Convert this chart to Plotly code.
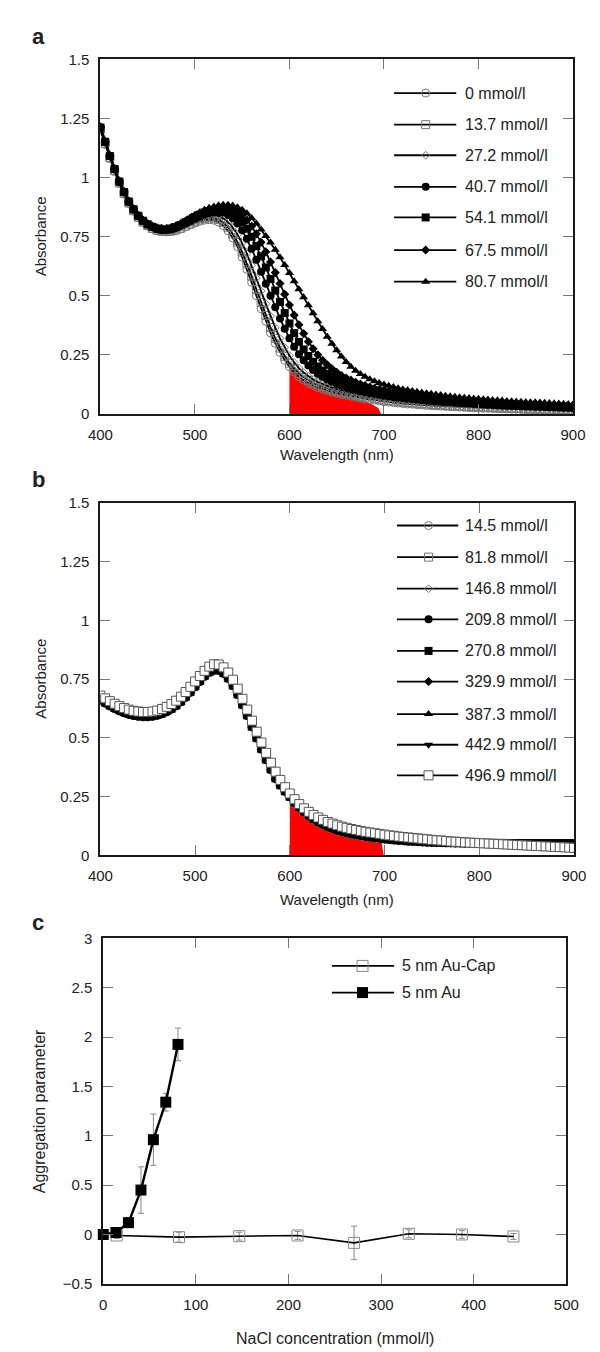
import plotly.graph_objects as go

# ---------------- data ----------------
WL = list(range(400, 901, 5))  # wavelength grid (nm), 5 nm steps

A_LABELS = ["0 mmol/l", "13.7 mmol/l", "27.2 mmol/l", "40.7 mmol/l",
            "54.1 mmol/l", "67.5 mmol/l", "80.7 mmol/l"]

A0 = [1.200, 1.140, 1.080, 1.025, 0.975, 0.930, 0.890, 0.858, 0.830, 0.810,
      0.795, 0.783, 0.775, 0.771, 0.770, 0.772, 0.776, 0.783, 0.791, 0.800,
      0.808, 0.815, 0.820, 0.822, 0.820, 0.812, 0.797, 0.775, 0.745, 0.708,
      0.663, 0.612, 0.557, 0.500, 0.445, 0.392, 0.343, 0.299, 0.260, 0.227,
      0.200, 0.177, 0.158, 0.143, 0.131, 0.121, 0.112, 0.105, 0.099, 0.093,
      0.088, 0.083, 0.079, 0.075, 0.071, 0.067, 0.064, 0.061, 0.058, 0.055,
      0.052, 0.050, 0.048, 0.046, 0.044, 0.042, 0.041, 0.039, 0.038, 0.036,
      0.035, 0.034, 0.033, 0.032, 0.031, 0.030, 0.029, 0.028, 0.027, 0.026,
      0.025, 0.024, 0.024, 0.023, 0.022, 0.022, 0.021, 0.020, 0.020, 0.019,
      0.018, 0.018, 0.017, 0.016, 0.016, 0.015, 0.015, 0.014, 0.014, 0.013,
      0.013]
A1 = [1.205, 1.145, 1.085, 1.030, 0.978, 0.933, 0.893, 0.860, 0.833, 0.812,
      0.797, 0.785, 0.777, 0.773, 0.772, 0.774, 0.779, 0.786, 0.795, 0.804,
      0.813, 0.821, 0.827, 0.830, 0.829, 0.823, 0.810, 0.790, 0.762, 0.727,
      0.685, 0.636, 0.583, 0.527, 0.471, 0.417, 0.366, 0.320, 0.279, 0.244,
      0.215, 0.191, 0.171, 0.155, 0.142, 0.131, 0.122, 0.114, 0.107, 0.101,
      0.095, 0.090, 0.086, 0.082, 0.078, 0.074, 0.071, 0.068, 0.065, 0.062,
      0.059, 0.057, 0.054, 0.052, 0.050, 0.048, 0.046, 0.045, 0.043, 0.042,
      0.040, 0.039, 0.038, 0.036, 0.035, 0.034, 0.033, 0.032, 0.031, 0.030,
      0.029, 0.028, 0.028, 0.027, 0.026, 0.025, 0.025, 0.024, 0.023, 0.023,
      0.022, 0.021, 0.021, 0.020, 0.020, 0.019, 0.019, 0.018, 0.018, 0.017,
      0.017]
A2 = [1.210, 1.148, 1.088, 1.032, 0.980, 0.935, 0.895, 0.862, 0.835, 0.814,
      0.799, 0.787, 0.779, 0.775, 0.774, 0.777, 0.782, 0.790, 0.800, 0.810,
      0.819, 0.828, 0.835, 0.839, 0.840, 0.837, 0.828, 0.812, 0.789, 0.759,
      0.722, 0.678, 0.628, 0.575, 0.520, 0.466, 0.414, 0.365, 0.320, 0.281,
      0.247, 0.218, 0.194, 0.175, 0.159, 0.146, 0.135, 0.126, 0.118, 0.111,
      0.105, 0.099, 0.094, 0.090, 0.086, 0.082, 0.078, 0.075, 0.072, 0.069,
      0.066, 0.063, 0.061, 0.059, 0.056, 0.054, 0.052, 0.051, 0.049, 0.047,
      0.046, 0.044, 0.043, 0.041, 0.040, 0.039, 0.038, 0.037, 0.036, 0.035,
      0.034, 0.033, 0.032, 0.031, 0.030, 0.029, 0.029, 0.028, 0.027, 0.026,
      0.026, 0.025, 0.024, 0.024, 0.023, 0.023, 0.022, 0.022, 0.021, 0.021,
      0.020]
A3 = [1.210, 1.150, 1.090, 1.034, 0.982, 0.937, 0.897, 0.864, 0.837, 0.816,
      0.801, 0.790, 0.782, 0.778, 0.778, 0.781, 0.787, 0.796, 0.806, 0.816,
      0.826, 0.836, 0.844, 0.850, 0.854, 0.855, 0.852, 0.843, 0.828, 0.806,
      0.777, 0.741, 0.699, 0.652, 0.602, 0.551, 0.500, 0.451, 0.404, 0.360,
      0.320, 0.284, 0.253, 0.227, 0.205, 0.186, 0.170, 0.157, 0.146, 0.136,
      0.127, 0.120, 0.113, 0.107, 0.102, 0.097, 0.093, 0.089, 0.085, 0.082,
      0.078, 0.075, 0.072, 0.070, 0.067, 0.065, 0.063, 0.061, 0.059, 0.057,
      0.055, 0.053, 0.052, 0.050, 0.049, 0.047, 0.046, 0.045, 0.044, 0.042,
      0.041, 0.040, 0.039, 0.038, 0.037, 0.036, 0.035, 0.034, 0.034, 0.033,
      0.032, 0.031, 0.030, 0.030, 0.029, 0.028, 0.028, 0.027, 0.026, 0.026,
      0.025]
A4 = [1.212, 1.152, 1.092, 1.036, 0.984, 0.939, 0.899, 0.866, 0.839, 0.818,
      0.803, 0.792, 0.785, 0.781, 0.781, 0.785, 0.791, 0.800, 0.811, 0.822,
      0.833, 0.843, 0.852, 0.859, 0.863, 0.866, 0.865, 0.860, 0.850, 0.834,
      0.812, 0.784, 0.750, 0.711, 0.667, 0.620, 0.571, 0.522, 0.474, 0.427,
      0.383, 0.342, 0.305, 0.273, 0.245, 0.221, 0.201, 0.184, 0.169, 0.157,
      0.146, 0.137, 0.129, 0.122, 0.116, 0.110, 0.105, 0.100, 0.096, 0.092,
      0.088, 0.085, 0.082, 0.079, 0.076, 0.073, 0.071, 0.068, 0.066, 0.064,
      0.062, 0.060, 0.058, 0.057, 0.055, 0.053, 0.052, 0.050, 0.049, 0.048,
      0.047, 0.045, 0.044, 0.043, 0.042, 0.041, 0.040, 0.039, 0.038, 0.037,
      0.036, 0.035, 0.035, 0.034, 0.033, 0.032, 0.031, 0.031, 0.030, 0.029,
      0.029]
A5 = [1.215, 1.154, 1.094, 1.038, 0.986, 0.941, 0.901, 0.868, 0.841, 0.820,
      0.805, 0.794, 0.787, 0.784, 0.784, 0.788, 0.795, 0.804, 0.815, 0.827,
      0.838, 0.849, 0.858, 0.866, 0.871, 0.875, 0.876, 0.874, 0.868, 0.857,
      0.841, 0.820, 0.794, 0.762, 0.726, 0.686, 0.643, 0.598, 0.552, 0.506,
      0.461, 0.418, 0.377, 0.340, 0.306, 0.276, 0.250, 0.227, 0.208, 0.191,
      0.176, 0.163, 0.152, 0.143, 0.134, 0.127, 0.120, 0.114, 0.109, 0.104,
      0.100, 0.096, 0.092, 0.089, 0.086, 0.083, 0.080, 0.077, 0.075, 0.072,
      0.070, 0.068, 0.066, 0.064, 0.062, 0.061, 0.059, 0.057, 0.056, 0.054,
      0.053, 0.052, 0.050, 0.049, 0.048, 0.047, 0.046, 0.045, 0.044, 0.043,
      0.042, 0.041, 0.040, 0.039, 0.038, 0.037, 0.037, 0.036, 0.035, 0.034,
      0.034]
A6 = [1.218, 1.156, 1.096, 1.040, 0.988, 0.943, 0.903, 0.870, 0.843, 0.822,
      0.807, 0.796, 0.789, 0.786, 0.787, 0.791, 0.798, 0.808, 0.819, 0.831,
      0.843, 0.854, 0.864, 0.872, 0.878, 0.883, 0.885, 0.885, 0.882, 0.875,
      0.864, 0.849, 0.829, 0.806, 0.780, 0.753, 0.725, 0.695, 0.663, 0.630,
      0.596, 0.562, 0.528, 0.494, 0.460, 0.426, 0.392, 0.359, 0.327, 0.297,
      0.269, 0.243, 0.220, 0.200, 0.183, 0.169, 0.157, 0.147, 0.138, 0.131,
      0.125, 0.119, 0.114, 0.109, 0.105, 0.101, 0.097, 0.094, 0.091, 0.088,
      0.085, 0.082, 0.080, 0.077, 0.075, 0.073, 0.071, 0.069, 0.067, 0.065,
      0.064, 0.062, 0.061, 0.059, 0.058, 0.057, 0.055, 0.054, 0.053, 0.052,
      0.051, 0.050, 0.049, 0.048, 0.047, 0.046, 0.045, 0.044, 0.043, 0.042,
      0.041]

B_LABELS = ["14.5 mmol/l", "81.8 mmol/l", "146.8 mmol/l", "209.8 mmol/l",
            "270.8 mmol/l", "329.9 mmol/l", "387.3 mmol/l", "442.9 mmol/l",
            "496.9 mmol/l"]

B0 = [0.660, 0.648, 0.636, 0.625, 0.615, 0.607, 0.600, 0.595, 0.592, 0.590,
      0.590, 0.592, 0.596, 0.602, 0.611, 0.622, 0.636, 0.653, 0.672, 0.694,
      0.717, 0.740, 0.762, 0.778, 0.787, 0.786, 0.774, 0.752, 0.721, 0.683,
      0.640, 0.594, 0.546, 0.498, 0.451, 0.406, 0.364, 0.326, 0.298, 0.272,
      0.248, 0.224, 0.203, 0.184, 0.168, 0.154, 0.142, 0.131, 0.122, 0.114,
      0.107, 0.101, 0.096, 0.091, 0.087, 0.083, 0.080, 0.077, 0.074, 0.072,
      0.069, 0.067, 0.065, 0.063, 0.062, 0.060, 0.059, 0.058, 0.057, 0.056,
      0.055, 0.054, 0.054, 0.053, 0.053, 0.052, 0.052, 0.051, 0.051, 0.051,
      0.050, 0.050, 0.050, 0.050, 0.050, 0.050, 0.049, 0.049, 0.049, 0.049,
      0.049, 0.049, 0.049, 0.049, 0.049, 0.049, 0.049, 0.049, 0.049, 0.049,
      0.049]
B1 = [0.664, 0.652, 0.640, 0.629, 0.619, 0.611, 0.604, 0.599, 0.596, 0.594,
      0.594, 0.596, 0.600, 0.606, 0.615, 0.626, 0.640, 0.657, 0.676, 0.698,
      0.721, 0.744, 0.765, 0.781, 0.790, 0.789, 0.777, 0.755, 0.724, 0.686,
      0.643, 0.597, 0.549, 0.501, 0.454, 0.409, 0.367, 0.329, 0.300, 0.274,
      0.250, 0.226, 0.205, 0.186, 0.170, 0.156, 0.144, 0.133, 0.124, 0.116,
      0.109, 0.103, 0.097, 0.092, 0.088, 0.084, 0.081, 0.078, 0.075, 0.073,
      0.070, 0.068, 0.066, 0.064, 0.063, 0.061, 0.060, 0.059, 0.058, 0.057,
      0.056, 0.055, 0.055, 0.054, 0.054, 0.053, 0.053, 0.052, 0.052, 0.052,
      0.051, 0.051, 0.051, 0.051, 0.051, 0.051, 0.050, 0.050, 0.050, 0.050,
      0.050, 0.050, 0.050, 0.050, 0.050, 0.050, 0.050, 0.050, 0.050, 0.050,
      0.050]
B2 = [0.662, 0.650, 0.638, 0.627, 0.617, 0.609, 0.602, 0.597, 0.594, 0.592,
      0.592, 0.594, 0.598, 0.604, 0.613, 0.624, 0.638, 0.655, 0.674, 0.696,
      0.719, 0.742, 0.764, 0.780, 0.789, 0.788, 0.776, 0.754, 0.723, 0.685,
      0.642, 0.596, 0.548, 0.500, 0.453, 0.408, 0.366, 0.328, 0.299, 0.273,
      0.249, 0.225, 0.204, 0.185, 0.169, 0.155, 0.143, 0.132, 0.123, 0.115,
      0.108, 0.102, 0.097, 0.092, 0.088, 0.084, 0.081, 0.078, 0.075, 0.073,
      0.070, 0.068, 0.066, 0.064, 0.063, 0.061, 0.060, 0.059, 0.058, 0.057,
      0.056, 0.055, 0.055, 0.054, 0.054, 0.053, 0.053, 0.052, 0.052, 0.052,
      0.051, 0.051, 0.051, 0.051, 0.051, 0.051, 0.050, 0.050, 0.050, 0.050,
      0.050, 0.050, 0.050, 0.050, 0.050, 0.050, 0.050, 0.050, 0.050, 0.050,
      0.050]
B3 = [0.658, 0.646, 0.634, 0.623, 0.613, 0.605, 0.598, 0.593, 0.590, 0.588,
      0.588, 0.590, 0.594, 0.600, 0.609, 0.620, 0.634, 0.651, 0.670, 0.692,
      0.715, 0.738, 0.760, 0.777, 0.786, 0.785, 0.773, 0.751, 0.720, 0.682,
      0.639, 0.593, 0.545, 0.497, 0.450, 0.405, 0.363, 0.325, 0.297, 0.271,
      0.247, 0.223, 0.202, 0.183, 0.167, 0.153, 0.141, 0.130, 0.121, 0.113,
      0.106, 0.100, 0.095, 0.090, 0.086, 0.082, 0.079, 0.076, 0.073, 0.071,
      0.068, 0.066, 0.064, 0.062, 0.061, 0.059, 0.058, 0.057, 0.056, 0.055,
      0.054, 0.053, 0.053, 0.052, 0.052, 0.051, 0.051, 0.050, 0.050, 0.050,
      0.049, 0.049, 0.049, 0.049, 0.049, 0.049, 0.048, 0.048, 0.048, 0.048,
      0.048, 0.048, 0.048, 0.048, 0.048, 0.048, 0.048, 0.048, 0.048, 0.048,
      0.048]
B4 = [0.663, 0.651, 0.639, 0.628, 0.618, 0.610, 0.603, 0.598, 0.595, 0.593,
      0.593, 0.595, 0.599, 0.605, 0.614, 0.625, 0.639, 0.656, 0.675, 0.697,
      0.720, 0.743, 0.765, 0.781, 0.790, 0.789, 0.777, 0.755, 0.724, 0.686,
      0.643, 0.597, 0.549, 0.501, 0.454, 0.409, 0.367, 0.329, 0.300, 0.274,
      0.250, 0.226, 0.205, 0.186, 0.170, 0.156, 0.144, 0.133, 0.124, 0.116,
      0.109, 0.103, 0.098, 0.093, 0.089, 0.085, 0.082, 0.079, 0.076, 0.074,
      0.071, 0.069, 0.067, 0.065, 0.064, 0.062, 0.061, 0.060, 0.059, 0.058,
      0.057, 0.056, 0.056, 0.055, 0.055, 0.054, 0.054, 0.053, 0.053, 0.053,
      0.052, 0.052, 0.052, 0.052, 0.052, 0.052, 0.051, 0.051, 0.051, 0.051,
      0.051, 0.051, 0.051, 0.051, 0.051, 0.051, 0.051, 0.051, 0.051, 0.051,
      0.051]
B5 = [0.661, 0.649, 0.637, 0.626, 0.616, 0.608, 0.601, 0.596, 0.593, 0.591,
      0.591, 0.593, 0.597, 0.603, 0.612, 0.623, 0.637, 0.654, 0.673, 0.695,
      0.718, 0.741, 0.763, 0.779, 0.788, 0.787, 0.775, 0.753, 0.722, 0.684,
      0.641, 0.595, 0.547, 0.499, 0.452, 0.407, 0.365, 0.327, 0.298, 0.272,
      0.248, 0.224, 0.203, 0.184, 0.168, 0.154, 0.142, 0.131, 0.122, 0.114,
      0.107, 0.101, 0.096, 0.091, 0.087, 0.083, 0.080, 0.077, 0.074, 0.072,
      0.069, 0.067, 0.065, 0.063, 0.062, 0.060, 0.059, 0.058, 0.057, 0.056,
      0.055, 0.054, 0.054, 0.053, 0.053, 0.052, 0.052, 0.051, 0.051, 0.051,
      0.050, 0.050, 0.050, 0.050, 0.050, 0.050, 0.049, 0.049, 0.049, 0.049,
      0.049, 0.049, 0.049, 0.049, 0.049, 0.049, 0.049, 0.049, 0.049, 0.049,
      0.049]
B6 = [0.665, 0.653, 0.641, 0.630, 0.620, 0.612, 0.605, 0.600, 0.597, 0.595,
      0.595, 0.597, 0.601, 0.607, 0.616, 0.627, 0.641, 0.658, 0.677, 0.699,
      0.722, 0.745, 0.766, 0.782, 0.791, 0.790, 0.778, 0.756, 0.725, 0.687,
      0.644, 0.598, 0.550, 0.502, 0.455, 0.410, 0.368, 0.330, 0.301, 0.275,
      0.251, 0.227, 0.206, 0.187, 0.171, 0.157, 0.145, 0.134, 0.125, 0.117,
      0.110, 0.104, 0.099, 0.094, 0.090, 0.086, 0.083, 0.080, 0.077, 0.075,
      0.072, 0.070, 0.068, 0.066, 0.065, 0.063, 0.062, 0.061, 0.060, 0.059,
      0.058, 0.057, 0.057, 0.056, 0.056, 0.055, 0.055, 0.054, 0.054, 0.054,
      0.053, 0.053, 0.053, 0.053, 0.053, 0.053, 0.052, 0.052, 0.052, 0.052,
      0.052, 0.052, 0.052, 0.052, 0.052, 0.052, 0.052, 0.052, 0.052, 0.052,
      0.052]
B7 = [0.667, 0.655, 0.643, 0.632, 0.622, 0.614, 0.607, 0.602, 0.599, 0.597,
      0.597, 0.599, 0.603, 0.609, 0.618, 0.629, 0.643, 0.660, 0.679, 0.701,
      0.724, 0.747, 0.768, 0.784, 0.793, 0.792, 0.780, 0.758, 0.727, 0.689,
      0.646, 0.600, 0.552, 0.504, 0.457, 0.412, 0.370, 0.332, 0.303, 0.277,
      0.253, 0.229, 0.208, 0.189, 0.173, 0.159, 0.147, 0.136, 0.127, 0.119,
      0.112, 0.106, 0.101, 0.096, 0.092, 0.088, 0.085, 0.082, 0.079, 0.077,
      0.074, 0.072, 0.070, 0.068, 0.067, 0.065, 0.064, 0.063, 0.062, 0.061,
      0.060, 0.059, 0.059, 0.058, 0.058, 0.057, 0.057, 0.056, 0.056, 0.056,
      0.055, 0.055, 0.055, 0.055, 0.055, 0.055, 0.054, 0.054, 0.054, 0.054,
      0.054, 0.054, 0.054, 0.054, 0.054, 0.054, 0.054, 0.054, 0.054, 0.054,
      0.054]
B8 = [0.680, 0.668, 0.656, 0.645, 0.635, 0.627, 0.620, 0.615, 0.612, 0.610,
      0.610, 0.612, 0.616, 0.623, 0.632, 0.644, 0.658, 0.675, 0.695, 0.717,
      0.740, 0.763, 0.785, 0.803, 0.813, 0.812, 0.800, 0.778, 0.747, 0.709,
      0.666, 0.620, 0.573, 0.526, 0.480, 0.436, 0.394, 0.356, 0.321, 0.290,
      0.263, 0.239, 0.218, 0.200, 0.185, 0.172, 0.161, 0.151, 0.142, 0.135,
      0.128, 0.122, 0.117, 0.112, 0.108, 0.104, 0.100, 0.097, 0.094, 0.091,
      0.088, 0.085, 0.083, 0.080, 0.078, 0.076, 0.074, 0.072, 0.070, 0.068,
      0.066, 0.064, 0.063, 0.061, 0.059, 0.058, 0.057, 0.055, 0.054, 0.053,
      0.052, 0.051, 0.050, 0.049, 0.048, 0.047, 0.046, 0.045, 0.044, 0.043,
      0.042, 0.041, 0.040, 0.039, 0.038, 0.037, 0.036, 0.035, 0.034, 0.033,
      0.032]

# red integration areas (600-700 nm)
RED_A_X = [600, 608, 619, 635, 662, 685, 694, 697]
RED_A_Y = [0.200, 0.165, 0.130, 0.100, 0.074, 0.046, 0.025, 0.0]
RED_B_X = [600, 612, 623, 640, 662, 685, 697, 699]
RED_B_Y = [0.249, 0.200, 0.158, 0.120, 0.095, 0.070, 0.053, 0.0]

# panel c
CAP_NACL = [14.5, 81.8, 146.8, 209.8, 270.8, 329.9, 387.3, 442.9]
CAP_AGG = [-0.01, -0.027, -0.017, -0.01, -0.085, 0.007, 0.0, -0.02]
CAP_ERR = [0.03, 0.05, 0.04, 0.04, 0.17, 0.04, 0.04, 0.03]
AU_NACL = [0, 13.7, 27.2, 40.7, 54.1, 67.5, 80.7]
AU_AGG = [0.0, 0.02, 0.12, 0.45, 0.96, 1.34, 1.925]
AU_ERR = [0.01, 0.02, 0.03, 0.235, 0.26, 0.09, 0.165]

# ---------------- styling / layout ----------------
W, H = 600, 1352
FONT = "Liberation Sans, Arial, Helvetica, sans-serif"
TXT = "#222222"
OPEN_C = "#777777"
LW = 1.8

# panel pixel boxes: left, right, top, bottom
BOX = {
    "a": (83, 577, 43, 402),
    "b": (83, 578, 492, 849),
    "c": (86, 570, 933, 1283),
}
RANGES = {
    "a": ((400, 900), (0, 1.5)),
    "b": ((400, 900), (0, 1.5)),
    "c": ((0, 500), (-0.5, 3)),
}
AX = {"a": ("x", "y"), "b": ("x2", "y2"), "c": ("x3", "y3")}


def to_data(p, px, py):
    l, r, t, b = BOX[p]
    (x0, x1), (y0, y1) = RANGES[p]
    return x0 + (px - l) / (r - l) * (x1 - x0), y0 + (b - py) / (b - t) * (y1 - y0)


fig = go.Figure()

A_SERIES = [A0, A1, A2, A3, A4, A5, A6]
A_SYM = ["circle-open", "square-open", "diamond-open", "circle", "square", "diamond", "triangle-up"]
A_SIZE = [8, 8, 6, 8, 8, 7, 8]
A_COL = [OPEN_C, OPEN_C, OPEN_C, "black", "black", "black", "black"]

B_SERIES = [B0, B1, B2, B3, B4, B5, B6, B7, B8]
B_SYM = ["circle-open", "square-open", "diamond-open", "circle", "square", "diamond",
         "triangle-up", "triangle-down", "square"]
B_SIZE = [8, 8, 6, 8, 8, 7, 8, 8, 9]
B_COL = [OPEN_C, OPEN_C, OPEN_C, "black", "black", "black", "black", "black", "white"]


def marker(sym, size, col):
    if col == "white":
        return dict(symbol=sym, size=size, color="white", line=dict(color="#555555", width=1))
    if sym.endswith("-open"):
        return dict(symbol=sym, size=size, color=col, line=dict(color=col, width=1))
    return dict(symbol=sym, size=size, color=col, line=dict(width=0))


# red areas
for p, rx, ry in (("a", RED_A_X, RED_A_Y), ("b", RED_B_X, RED_B_Y)):
    xa, ya = AX[p]
    fig.add_trace(go.Scatter(x=rx, y=ry, mode="lines", fill="tozeroy", fillcolor="#ff0000",
                             line=dict(width=0, color="#ff0000"), xaxis=xa, yaxis=ya,
                             showlegend=False, hoverinfo="skip"))

annotations = []


def add_panel_series(p, series, labels, syms, sizes, cols, leg_px, leg_ys):
    xa, ya = AX[p]
    for s, lab, sym, sz, col in zip(series, labels, syms, sizes, cols):
        fig.add_trace(go.Scatter(x=WL, y=s, mode="lines+markers", name=lab,
                                 line=dict(color="black", width=LW),
                                 marker=marker(sym, sz, col), xaxis=xa, yaxis=ya,
                                 showlegend=False))
    lx0, lx1, lxm, ltx = leg_px
    for lab, sym, sz, col, py in zip(labels, syms, sizes, cols, leg_ys):
        x0, yy = to_data(p, lx0, py)
        x1, _ = to_data(p, lx1, py)
        xm, _ = to_data(p, lxm, py)
        xt, _ = to_data(p, ltx, py)
        fig.add_trace(go.Scatter(x=[x0, x1], y=[yy, yy], mode="lines",
                                 line=dict(color="black", width=LW), xaxis=xa, yaxis=ya,
                                 showlegend=False, hoverinfo="skip", cliponaxis=False))
        fig.add_trace(go.Scatter(x=[xm], y=[yy], mode="markers", marker=marker(sym, sz, col),
                                 xaxis=xa, yaxis=ya, showlegend=False, hoverinfo="skip",
                                 cliponaxis=False))
        annotations.append(dict(x=xt, y=yy, xref=xa, yref=ya, text=lab, showarrow=False,
                                xanchor="left", yanchor="middle",
                                font=dict(size=16, color=TXT, family=FONT)))


add_panel_series("a", A_SERIES, A_LABELS, A_SYM, A_SIZE, A_COL,
                 (390, 455, 423, 462), [77, 109, 140, 172, 203, 236, 268])
add_panel_series("b", B_SERIES, B_LABELS, B_SYM, B_SIZE, B_COL,
                 (393, 457, 426, 462), [515, 547, 579, 610, 642, 673, 706, 737, 768])

# panel c
fig.add_trace(go.Scatter(x=CAP_NACL, y=CAP_AGG, mode="lines+markers", name="5 nm Au-Cap",
                         line=dict(color="black", width=1.6),
                         marker=dict(symbol="square-open", size=11, color="#888888",
                                     line=dict(color="#888888", width=1)),
                         error_y=dict(type="data", array=CAP_ERR, color="#888888",
                                      thickness=1, width=3),
                         xaxis="x3", yaxis="y3", showlegend=False, cliponaxis=False))
fig.add_trace(go.Scatter(x=AU_NACL, y=AU_AGG, mode="lines+markers", name="5 nm Au",
                         line=dict(color="black", width=2.4),
                         marker=dict(symbol="square", size=11, color="black"),
                         error_y=dict(type="data", array=AU_ERR, color="#888888",
                                      thickness=1, width=3),
                         xaxis="x3", yaxis="y3", showlegend=False, cliponaxis=False))
C_LEG = [("5 nm Au-Cap", dict(symbol="square-open", size=11, color="#888888",
                              line=dict(color="#888888", width=1)), 961),
         ("5 nm Au", dict(symbol="square", size=11, color="black"), 988)]
for lab, mk, py in C_LEG:
    x0, yy = to_data("c", 325, py)
    x1, _ = to_data("c", 390, py)
    xm, _ = to_data("c", 357, py)
    xt, _ = to_data("c", 396, py)
    fig.add_trace(go.Scatter(x=[x0, x1], y=[yy, yy], mode="lines",
                             line=dict(color="black", width=1.8), xaxis="x3", yaxis="y3",
                             showlegend=False, hoverinfo="skip", cliponaxis=False))
    fig.add_trace(go.Scatter(x=[xm], y=[yy], mode="markers", marker=mk,
                             xaxis="x3", yaxis="y3", showlegend=False, hoverinfo="skip",
                             cliponaxis=False))
    annotations.append(dict(x=xt, y=yy, xref="x3", yref="y3", text=lab, showarrow=False,
                            xanchor="left", yanchor="middle",
                            font=dict(size=16, color=TXT, family=FONT)))

# axes
AXCOMMON = dict(showline=True, linecolor="#1a1a1a", linewidth=2, mirror="ticks",
                ticks="inside", ticklen=10, tickwidth=1, tickcolor="#777777",
                showgrid=False, zeroline=False,
                tickfont=dict(size=15, color=TXT, family=FONT))

ABS_TV = [0, 0.25, 0.5, 0.75, 1, 1.25, 1.5]
ABS_TT = ["0", "0.25", "0.5", "0.75", "1", "1.25", "1.5"]
WL_TV = [400, 500, 600, 700, 800, 900]
C_YTV = [-0.5, 0, 0.5, 1, 1.5, 2, 2.5, 3]
C_YTT = ["\u22120.5", "0", "0.5", "1", "1.5", "2", "2.5", "3"]
C_XTV = [0, 100, 200, 300, 400, 500]

layout_axes = {}
names = {"a": ("xaxis", "yaxis"), "b": ("xaxis2", "yaxis2"), "c": ("xaxis3", "yaxis3")}
for p in ("a", "b", "c"):
    l, r, t, b = BOX[p]
    (x0, x1), (y0, y1) = RANGES[p]
    xn, yn = names[p]
    xa, ya = AX[p]
    if p == "c":
        xtv, xtt, ytv, ytt = C_XTV, [str(v) for v in C_XTV], C_YTV, C_YTT
    else:
        xtv, xtt, ytv, ytt = WL_TV, [str(v) for v in WL_TV], ABS_TV, ABS_TT
    layout_axes[xn] = dict(AXCOMMON, domain=[l / W, r / W], range=[x0, x1], anchor=ya,
                           tickvals=xtv, ticktext=xtt, ticklabelstandoff=6)
    layout_axes[yn] = dict(AXCOMMON, domain=[1 - b / H, 1 - t / H], range=[y0, y1], anchor=xa,
                           tickvals=ytv, ticktext=ytt, ticklabelstandoff=6)


def pann(text, px, py, size=16, angle=0, bold=False):
    annotations.append(dict(x=px / W, y=1 - py / H, xref="paper", yref="paper",
                            text=f"<b>{text}</b>" if bold else text, showarrow=False,
                            textangle=angle, xanchor="center", yanchor="middle",
                            font=dict(size=size, color=TXT, family=FONT)))


pann("a", 18, 20, 22, bold=True)
pann("b", 18, 468, 22, bold=True)
pann("c", 18, 917, 22, bold=True)
pann("Absorbance", 20, 222, 15, angle=-90)
pann("Wavelength (nm)", 330, 443, 15)
pann("Absorbance", 20, 670, 15, angle=-90)
pann("Wavelength (nm)", 330, 894, 15)
pann("Aggregation parameter", 19, 1108, 16, angle=-90)
pann("NaCl concentration (mmol/l)", 328, 1338, 16)

fig.update_layout(width=W, height=H, margin=dict(l=0, r=0, t=0, b=0),
                  paper_bgcolor="white", plot_bgcolor="white", showlegend=False,
                  annotations=annotations, font=dict(family=FONT, color=TXT),
                  **layout_axes)

fig.write_html("out.html")
